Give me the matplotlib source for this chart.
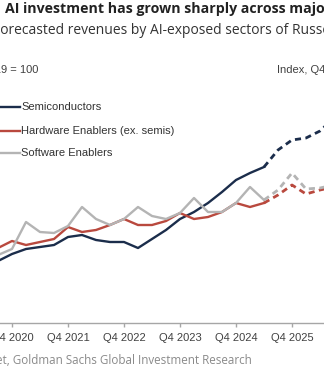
import matplotlib
matplotlib.use("Agg")
import matplotlib.pyplot as plt
from matplotlib.lines import Line2D

# ---------------- data (quarters counted from Q4 2019 = 0) ----------------
quarters_actual = list(range(3, 23))      # Q3 2020 .. Q2 2025
quarters_fcst = list(range(22, 28))       # Q2 2025 .. Q3 2026 (forecast)

semis_actual = [114, 121, 126, 128, 130, 138, 140, 135, 133, 133, 127, 136,
                145, 156, 163, 172, 183, 195, 202, 208]
semis_fcst = [208, 225, 235, 237, 244, 257]

hardware_actual = [127, 134, 130, 133, 136, 148, 143, 145, 150, 156, 150, 150,
                   154, 162, 156, 158, 163, 172, 168, 172]
hardware_fcst = [172, 180, 190, 181, 185, 188]

software_actual = [120, 126, 153, 143, 142, 149, 168, 156, 150, 156, 168, 159,
                   156, 162, 177, 163, 163, 172, 188, 175]
software_fcst = [175, 185, 202, 186, 187, 190]

tick_quarters = [4, 8, 12, 16, 20, 24]
tick_labels = ["Q4 2020", "Q4 2021", "Q4 2022", "Q4 2023", "Q4 2024",
               "Q4 2025"]

series_names = ["Semiconductors", "Hardware Enablers (ex. semis)",
                "Software Enablers"]
colors = ["#1b2d4b", "#b9493e", "#b4b4b4"]

# ---------------- layout ----------------
W, H = 324, 370
fig = plt.figure(figsize=(W / 100, H / 100), dpi=100)

def fx(px):
    return px / W

def fy(py):
    return 1 - py / H

ax_top, ax_bot = 80, 323
ax = fig.add_axes([0, fy(ax_bot), 1, (ax_bot - ax_top) / H])

lw = 1.7
ax.plot(quarters_actual, semis_actual, color=colors[0], lw=lw)
ax.plot(quarters_actual, hardware_actual, color=colors[1], lw=lw)
ax.plot(quarters_actual, software_actual, color=colors[2], lw=lw)
dash = (0, (2.2, 1.6))
ax.plot(quarters_fcst, semis_fcst, color=colors[0], lw=2.0, linestyle=dash)
ax.plot(quarters_fcst, hardware_fcst, color=colors[1], lw=2.0, linestyle=dash)
ax.plot(quarters_fcst, software_fcst, color=colors[2], lw=2.0, linestyle=dash)

for s in ["top", "left", "right"]:
    ax.spines[s].set_visible(False)
ax.spines["bottom"].set_color("#a6a6a6")
ax.spines["bottom"].set_linewidth(1.0)
ax.set_yticks([])
ax.set_xticks(tick_quarters)
ax.set_xticklabels(tick_labels, fontsize=8, color="#404040", family="Liberation Sans")
ax.tick_params(axis="x", length=3, width=1, color="#a6a6a6", pad=4)
ax.set_xlim(4 - 12 / 14, 4 + 312 / 14)
ax.set_ylim(375 - ax_bot, 375 - ax_top)
ax.patch.set_alpha(0)

# ---------------- legend (manual) ----------------
leg_y = [107, 131, 153]
for name, c, y in zip(series_names, colors, leg_y):
    fig.add_artist(Line2D([fx(-2), fx(20)], [fy(y), fy(y)], color=c, lw=1.7))
    fig.text(fx(21), fy(y), name, fontsize=8, color="#333333",
             family="Liberation Sans", va="center", ha="left")

# ---------------- texts ----------------
fig.text(fx(5), fy(12.7), "AI investment has grown sharply across major sectors",
         fontsize=10.2, fontweight="bold", color="#222222", family="Open Sans",
         va="baseline", ha="left")
fig.text(fx(-7), fy(34.3), "Forecasted revenues by AI-exposed sectors of Russell 3000",
         fontsize=10.0, color="#333333", family="Open Sans",
         va="baseline", ha="left")
fig.text(fx(38), fy(72.7), "Index, Q4 2019 = 100", fontsize=8, color="#404040",
         family="Liberation Sans", va="baseline", ha="right")
fig.text(fx(277), fy(72.7), "Index, Q4 2019 = 100", fontsize=8, color="#404040",
         family="Liberation Sans", va="baseline", ha="left")
fig.text(fx(252), fy(364), "Source: FactSet, Goldman Sachs Global Investment Research",
         fontsize=8.4, color="#8a8a8a", family="Open Sans",
         va="baseline", ha="right")

fig.savefig("out.png", dpi=100)
